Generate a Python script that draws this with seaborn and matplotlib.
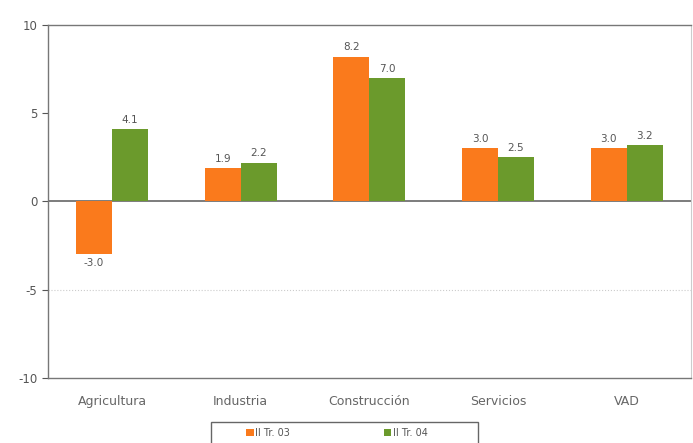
import pandas as pd
import seaborn as sns
import matplotlib.pyplot as plt
from matplotlib.patches import Rectangle

categories = ['Agricultura', 'Industria', 'Construcción', 'Servicios', 'VAD']
series_names = ['II Tr. 03', 'II Tr. 04']
values_03 = [-3.0, 1.9, 8.2, 3.0, 3.0]
values_04 = [4.1, 2.2, 7.0, 2.5, 3.2]

df = pd.DataFrame({
    'sector': categories * 2,
    'serie': [series_names[0]] * 5 + [series_names[1]] * 5,
    'valor': values_03 + values_04,
})

sns.set_style('white')
plt.rcParams['font.family'] = ['DejaVu Sans']

fig = plt.figure(figsize=(6.93, 4.43), dpi=100)
ax = fig.add_axes([0.069, 0.147, 0.928, 0.797])

sns.barplot(data=df, x='sector', y='valor', hue='serie', ax=ax,
            palette=['#FA7A1C', '#6B9A2C'], width=0.56, saturation=1,
            edgecolor='none')

for cont in ax.containers:
    ax.bar_label(cont, fmt='%.1f', padding=3, fontsize=7.5, color='#555555')

ax.set_ylim(-10, 10)
ax.set_yticks([-10, -5, 0, 5, 10])
ax.set_yticklabels(['-10', '-5', '0', '5', '10'])
ax.axhline(0, color='#666666', lw=1.2, zorder=0)
ax.axhline(-5, color='#cccccc', lw=0.8, ls=':', zorder=0)
ax.set_xlabel('')
ax.set_ylabel('')

for s in ['top', 'left', 'bottom']:
    ax.spines[s].set_color('#777777')
    ax.spines[s].set_linewidth(1.0)
ax.spines['right'].set_color('#cccccc')

ax.tick_params(axis='y', length=4, direction='out', left=True, colors='#555555', labelsize=8.5)
ax.tick_params(axis='x', length=0, colors='#666666', labelsize=9, pad=12)

# legend entries without frame, box drawn separately (wider than the entries)
ax.legend(loc='center', bbox_to_anchor=(337 / 693, 1 - 433 / 443),
          bbox_transform=fig.transFigure, ncol=2,
          fontsize=7, frameon=False,
          handlelength=0.8, handleheight=0.8, columnspacing=9.6,
          handletextpad=0.2, labelcolor='#555555')
fig.patches.append(Rectangle((211 / 693, -0.01), 267 / 693, (443 - 422) / 443 + 0.01,
                             transform=fig.transFigure, fill=False,
                             edgecolor='#666666', lw=1.0))

fig.savefig('out.png', dpi=100)
